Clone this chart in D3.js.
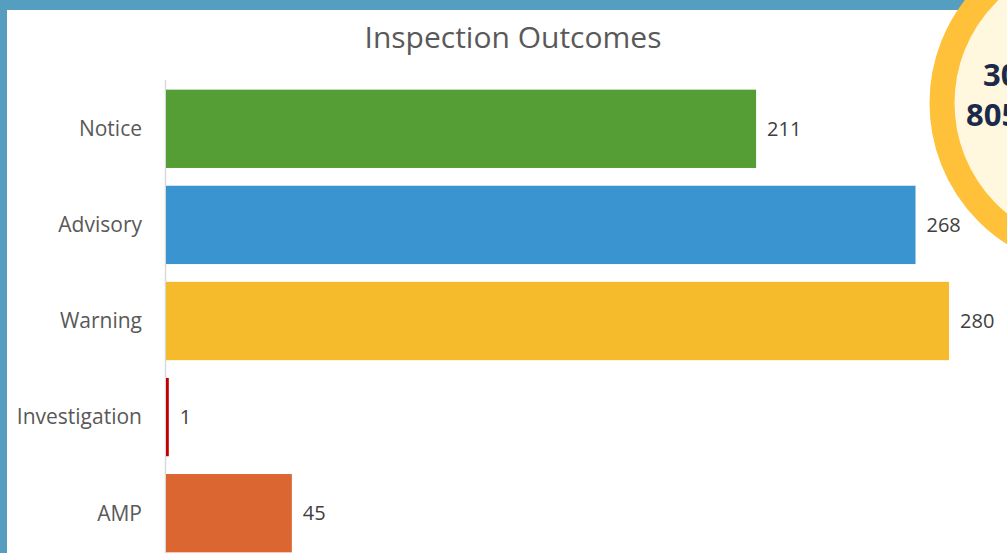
<!DOCTYPE html>
<html>
<head>
<meta charset="utf-8">
<script src="https://cdn.jsdelivr.net/npm/d3@7"></script>
<style>
  body { margin: 0; background: #fff; overflow: hidden; }
  svg { display: block; font-family: "Open Sans", Lato, sans-serif; }
</style>
</head>
<body>
<div id="chart"></div>
<script>
var categories = ["Notice", "Advisory", "Warning", "Investigation", "AMP"];
var values = [211, 268, 280, 1, 45];
var colors = ["#559e36", "#3a94cf", "#f6bb2c", "#c00000", "#dc6631"];
var badge_lines = ["30", "805"];

var width = 1007, height = 553;

var svg = d3.select("#chart").append("svg")
    .attr("width", width)
    .attr("height", height);

// blue frame
svg.append("rect")
    .attr("width", width).attr("height", height)
    .style("fill", "#559ec0");
svg.append("rect")
    .attr("x", 7).attr("y", 10)
    .attr("width", width - 7).attr("height", height - 10)
    .style("fill", "#fff");

var x = d3.scaleLinear()
    .domain([0, 300])
    .range([166, 1005]);

var y = d3.scaleBand()
    .domain(categories)
    .range([81, 561])
    .paddingInner(0.185)
    .paddingOuter(0.09);

svg.append("text")
    .attr("x", 513)
    .attr("y", 48)
    .attr("text-anchor", "middle")
    .style("font-size", "30px")
    .style("fill", "#595959")
    .text("Inspection Outcomes");

// axis line
svg.append("line")
    .attr("x1", 165.5).attr("x2", 165.5)
    .attr("y1", 80).attr("y2", height)
    .style("stroke", "#d9d9d9")
    .style("stroke-width", 1.5);

svg.selectAll(".bar")
    .data(values)
  .enter().append("rect")
    .attr("class", "bar")
    .attr("x", x(0))
    .attr("y", function(d, i){ return y(categories[i]); })
    .attr("width", function(d){ return x(d) - x(0); })
    .attr("height", y.bandwidth())
    .style("fill", function(d, i){ return colors[i]; });

svg.selectAll(".value-label")
    .data(values)
  .enter().append("text")
    .attr("class", "value-label")
    .attr("x", function(d){ return x(d) + 11; })
    .attr("y", function(d, i){ return y(categories[i]) + y.bandwidth() / 2; })
    .attr("dy", "0.35em")
    .style("font-size", "20px")
    .style("fill", "#404040")
    .text(function(d){ return d; });

svg.selectAll(".cat-label")
    .data(categories)
  .enter().append("text")
    .attr("class", "cat-label")
    .attr("x", 142)
    .attr("y", function(d){ return y(d) + y.bandwidth() / 2; })
    .attr("dy", "0.35em")
    .attr("text-anchor", "end")
    .style("font-size", "21px")
    .style("fill", "#595959")
    .text(function(d){ return d; });

// badge in top-right corner
svg.append("circle")
    .attr("cx", 1097).attr("cy", 103).attr("r", 155)
    .style("fill", "#fff7de")
    .style("stroke", "#ffc03a")
    .style("stroke-width", 25);

svg.selectAll(".badge-text")
    .data(badge_lines)
  .enter().append("text")
    .attr("class", "badge-text")
    .attr("x", function(d, i){ return i == 0 ? 983 : 966; })
    .attr("y", function(d, i){ return 86 + i * 40; })
    .style("font-size", "31px")
    .style("font-weight", "bold")
    .style("fill", "#1b2a4a")
    .text(function(d){ return d; });
</script>
</body>
</html>
